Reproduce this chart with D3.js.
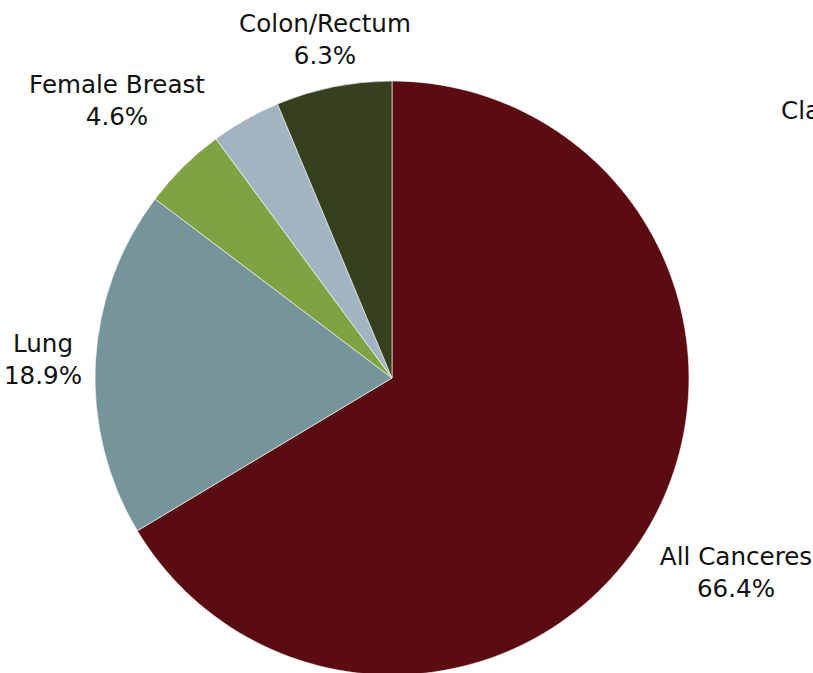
<!DOCTYPE html>
<html>
<head>
<meta charset="utf-8">
<script src="https://cdn.jsdelivr.net/npm/d3@7"></script>
<style>
  html, body { margin: 0; padding: 0; background: #fff; overflow: hidden; }
</style>
</head>
<body>
<div id="chart"></div>
<script>
// data (clockwise from 12 o'clock)
const categories = ['All Canceres', 'Lung', 'Female Breast', 'Cla', 'Colon/Rectum'];
const values = [66.4, 18.9, 4.6, 3.8, 6.3];
const showValue = [true, true, true, false, true];
const colors = ['#5a0c12', '#76959a', '#7fa243', '#a2b4c2', '#35401f'];

// layout
const width = 813, height = 673;
const cx = 392, cy = 378, radius = 297;
// label anchor points (centre of text block), tuned to the reference
const labelLayout = [
  { x: 736, y: 565 },
  { x: 43, y: 352 },
  { x: 117, y: 93 },
  { x: 781, y: 119, anchor: 'start' },
  { x: 325, y: 32 }
];

const svg = d3.select('#chart').append('svg')
  .attr('width', width)
  .attr('height', height);

const g = svg.append('g')
  .attr('transform', `translate(${cx},${cy})`);

const pie = d3.pie().value(d => d).sort(null);
const arc = d3.arc().innerRadius(0).outerRadius(radius);

g.selectAll('path')
  .data(pie(values))
  .join('path')
  .attr('d', arc)
  .attr('fill', (d, i) => colors[i])
  .attr('stroke', '#fff')
  .attr('stroke-width', 0.6);

// labels
const labels = svg.append('g')
  .attr('font-family', '"DejaVu Sans", sans-serif')
  .attr('font-size', 24.6)
  .attr('fill', '#111');

categories.forEach((cat, i) => {
  const p = labelLayout[i];
  const t = labels.append('text')
    .attr('x', p.x)
    .attr('y', p.y)
    .attr('text-anchor', p.anchor || 'middle');
  t.append('tspan').attr('x', p.x).text(cat);
  if (showValue[i]) {
    t.append('tspan')
      .attr('x', p.x)
      .attr('dy', 32)
      .text(d3.format('.1f')(values[i]) + '%');
  }
});
</script>
</body>
</html>
